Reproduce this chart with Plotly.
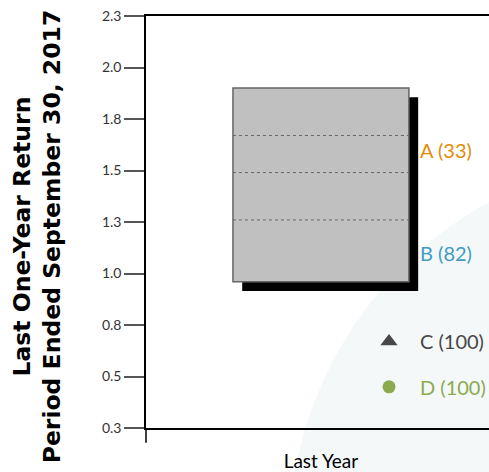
import plotly.graph_objects as go

# ---- data ----
category = ["Last Year"]
tick_vals = [0.25, 0.5, 0.75, 1.0, 1.25, 1.5, 1.75, 2.0, 2.25]
tick_text = ["0.3", "0.5", "0.8", "1.0", "1.3", "1.5", "1.8", "2.0", "2.3"]
# percentile band edges (bottom -> top)
band_edges = [0.96, 1.26, 1.49, 1.67, 1.90]
series_names = ["A (33)", "B (82)", "C (100)", "D (100)"]
series_values = [1.60, 1.10, 0.67, 0.45]
series_symbols = ["square", "circle", "triangle-up", "circle"]
series_colors = ["#E38B06", "#419DBE", "#474747", "#8BAA4E"]
series_sizes = [15, 13, 15, 13]

# ---- layout constants ----
cx = 0.0          # category position
half_w = 0.513    # box half width
sh_dx, sh_dy = 0.054, 0.045   # shadow offset
mk_dx = 0.397     # marker offset from category
lb_dx = 0.566     # label offset

fig = go.Figure()

shapes = []
# decorative pale arc background
shapes.append(dict(type="circle", xref="paper", yref="paper",
                   x0=0.417, x1=2.656, y0=-1.204, y1=0.663,
                   fillcolor="#F4F8F9", line=dict(width=0), layer="below"))
lo, hi = band_edges[0], band_edges[-1]
# shadow
shapes.append(dict(type="rect", xref="x", yref="y",
                   x0=cx - half_w + sh_dx, x1=cx + half_w + sh_dx,
                   y0=lo - sh_dy, y1=hi - sh_dy,
                   fillcolor="black", line=dict(width=0), layer="above"))
# box
shapes.append(dict(type="rect", xref="x", yref="y",
                   x0=cx - half_w, x1=cx + half_w, y0=lo, y1=hi,
                   fillcolor="#C0C0C0", line=dict(color="#666666", width=1.5),
                   layer="above"))
for e in band_edges[1:-1]:
    shapes.append(dict(type="line", xref="x", yref="y",
                       x0=cx - half_w, x1=cx + half_w, y0=e, y1=e,
                       line=dict(color="#666666", width=1, dash="dot"),
                       layer="above"))
# y-axis stub below the x axis
shapes.append(dict(type="line", xref="paper", yref="paper",
                   x0=0, x1=0, y0=0, y1=-0.036,
                   line=dict(color="black", width=1.5)))

for name, v, sym, col, sz in zip(series_names, series_values, series_symbols,
                                 series_colors, series_sizes):
    fig.add_trace(go.Scatter(x=[cx + mk_dx], y=[v], mode="markers",
                             marker=dict(symbol=sym, color=col, size=sz,
                                         line=dict(width=0)),
                             name=name, showlegend=False, cliponaxis=False,
                             hoverinfo="skip"))

annotations = []
for name, v, col in zip(series_names, series_values, series_colors):
    annotations.append(dict(x=cx + lb_dx, y=v, xref="x", yref="y", text=name,
                            showarrow=False, xanchor="left", yanchor="middle",
                            font=dict(family="Lato", size=20, color=col)))
annotations.append(dict(x=-0.318, y=0.465, xref="paper", yref="paper",
                        text="<b>Last One-Year Return</b><br><b>Period Ended September 30, 2017</b>",
                        textangle=-90, showarrow=False,
                        xanchor="center", yanchor="middle",
                        font=dict(family="DejaVu Sans", size=23.5, color="black"),
                        ))

fig.update_layout(
    width=489, height=472,
    margin=dict(l=146, r=0, t=16, b=44),
    paper_bgcolor="white", plot_bgcolor="rgba(0,0,0,0)",
    shapes=shapes, annotations=annotations,
    xaxis=dict(range=[-1.02, 0.98], tickvals=[cx], ticktext=category,
               showgrid=False, zeroline=False, showline=True, linecolor="black",
               linewidth=1.5, mirror=True, ticks="outside", ticklen=15,
               tickcolor="rgba(0,0,0,0)", automargin=False,
               tickfont=dict(family="Lato", size=19, color="black")),
    yaxis=dict(range=[0.25, 2.25], tickvals=tick_vals, ticktext=tick_text,
               showgrid=False, zeroline=False, showline=True, linecolor="black",
               linewidth=1.5, ticks="outside", ticklen=20, tickcolor="#555555",
               tickwidth=1.5, ticklabeloverflow="allow", automargin=False,
               tickfont=dict(family="Lato", size=14, color="#333333")),
)

fig.write_html("out.html", config={"displayModeBar": False},
               post_script="document.body.style.margin='0';"
                           "document.documentElement.style.overflow='hidden';")
